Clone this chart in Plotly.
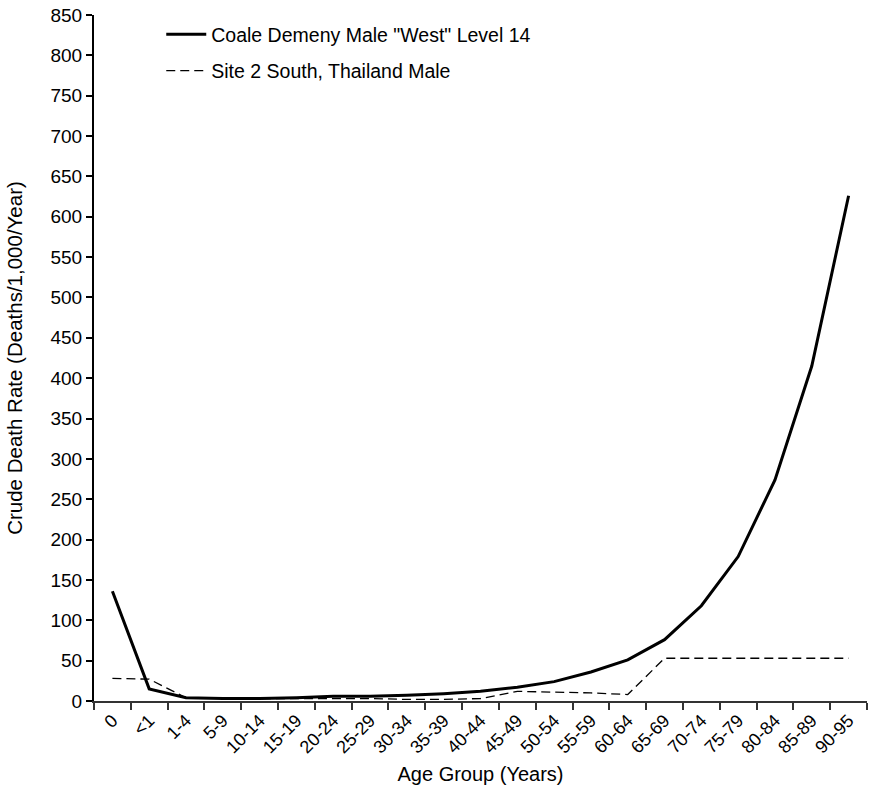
import plotly.graph_objects as go

age_groups = ["0", "<1", "1-4", "5-9", "10-14", "15-19", "20-24", "25-29", "30-34",
              "35-39", "40-44", "45-49", "50-54", "55-59", "60-64", "65-69", "70-74",
              "75-79", "80-84", "85-89", "90-95"]
coale_west_l14 = [136, 15, 4, 3, 3, 4, 6, 6, 7, 9, 12, 17, 24, 36, 51, 76, 118, 179, 274, 415, 626]
site2_south = [28, 27, 4, 4, 3, 3, 3, 3, 2, 2, 3, 12, 11, 10, 8, 53, 53, 53, 53, 53, 53]

FONT = "Liberation Sans, Arial, Helvetica, sans-serif"

fig = go.Figure()
fig.add_trace(go.Scatter(
    x=age_groups, y=coale_west_l14, mode="lines",
    name='Coale Demeny Male "West" Level 14', legendgroup="a",
    line=dict(color="black", width=3),
))
fig.add_trace(go.Scatter(
    x=age_groups, y=site2_south, mode="lines",
    name="Site 2 South, Thailand Male", legendgroup="b",
    line=dict(color="black", width=1.3, dash="9px,5px"),
))

fig.update_layout(
    width=870, height=789,
    margin=dict(l=94, r=3, t=15, b=88),
    paper_bgcolor="white", plot_bgcolor="white",
    font=dict(family=FONT, size=19, color="black"),
    showlegend=True,
    legend=dict(
        x=0.087, y=1.0, xanchor="left", yanchor="top",
        bgcolor="rgba(0,0,0,0)", font=dict(size=19.5),
        tracegroupgap=8, itemwidth=40,
    ),
    xaxis=dict(
        type="category", range=[-0.5, 20.5],
        tickson="boundaries", ticks="outside", ticklen=7, tickwidth=1.5,
        tickcolor="#333", showline=True, linecolor="#333", linewidth=2,
        tickangle=-45, showgrid=False, zeroline=False,
        tickfont=dict(size=18),
        title=dict(text="Age Group (Years)", font=dict(size=20), standoff=11),
    ),
    yaxis=dict(
        range=[0, 850], dtick=50, ticks="outside", ticklen=6, tickwidth=1.5,
        tickcolor="black", showline=True, linecolor="black", linewidth=2,
        showgrid=False, zeroline=False, tickfont=dict(size=19),
        title=dict(text="Crude Death Rate (Deaths/1,000/Year)", font=dict(size=20.5), standoff=22),
    ),
)

fig.write_html("out.html")
